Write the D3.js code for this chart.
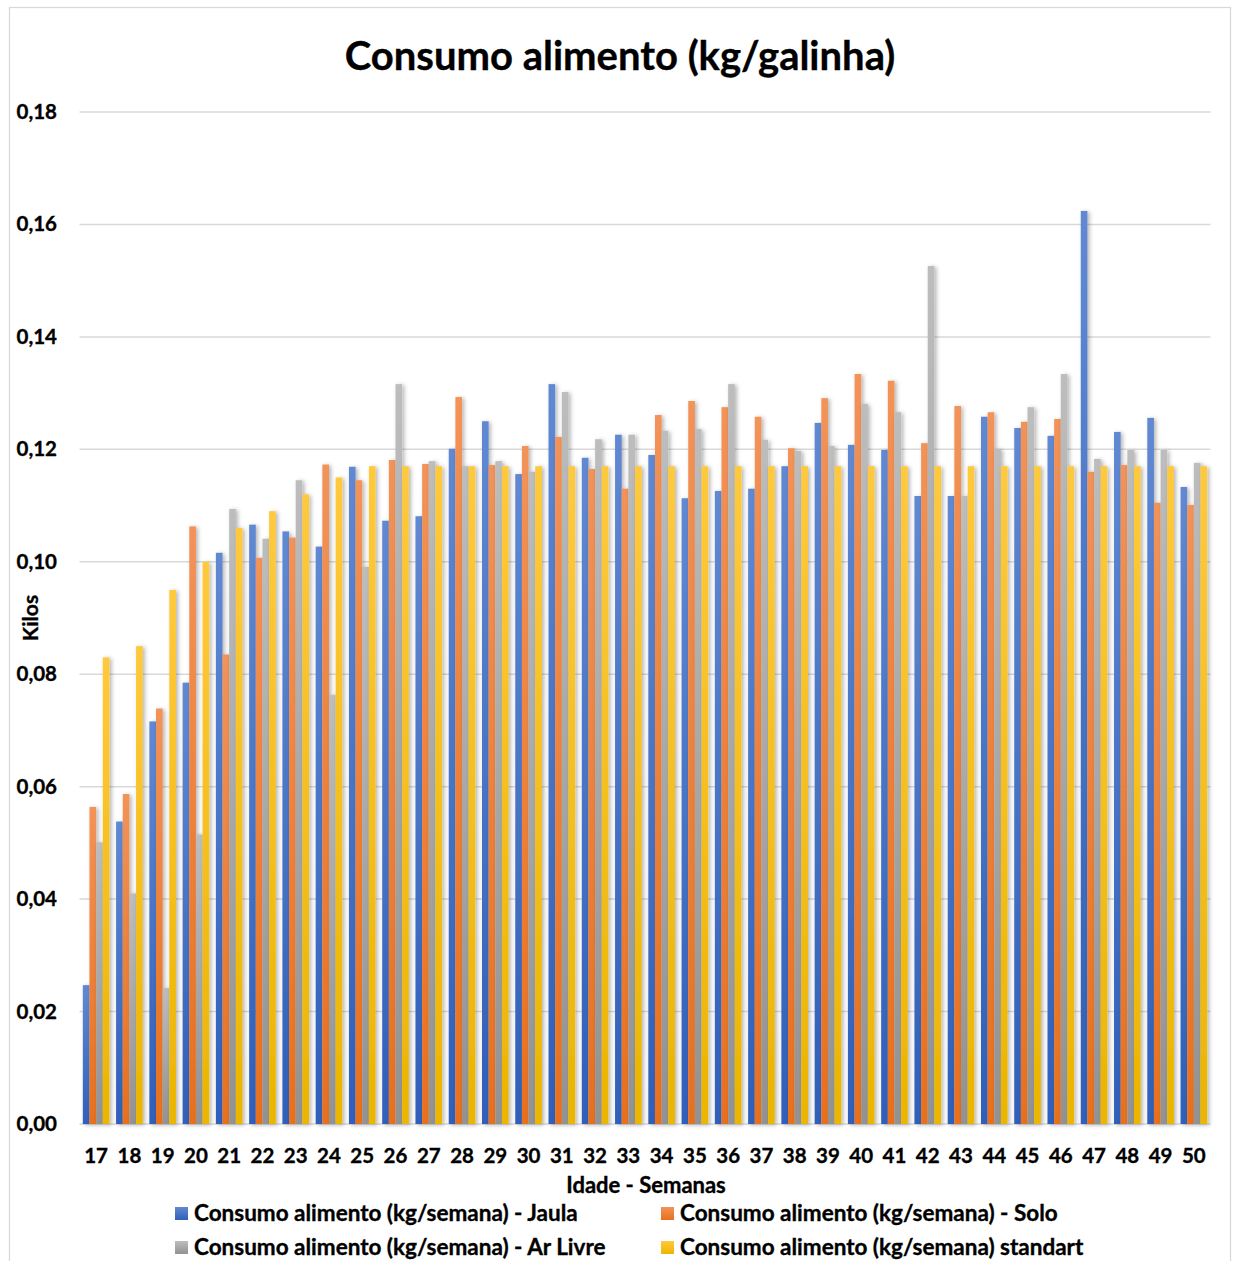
<!DOCTYPE html>
<html><head><meta charset="utf-8">
<script src="https://cdn.jsdelivr.net/npm/d3@7"></script>
<style>
html,body{margin:0;padding:0;background:#fff;}
text{font-family:Lato,"Open Sans",sans-serif;font-weight:bold;fill:#000;stroke:#000;stroke-width:0.35px;}
</style></head>
<body>
<svg id="chart" width="1237" height="1261"></svg>
<script>
const weeks = ["17","18","19","20","21","22","23","24","25","26","27","28","29","30","31","32","33","34","35","36","37","38","39","40","41","42","43","44","45","46","47","48","49","50"];
const jaula = [0.0247,0.0538,0.0716,0.0785,0.1016,0.1066,0.1054,0.1027,0.1169,0.1073,0.1081,0.1201,0.1250,0.1156,0.1316,0.1185,0.1226,0.1190,0.1113,0.1126,0.1130,0.1170,0.1247,0.1208,0.1199,0.1117,0.1117,0.1258,0.1238,0.1224,0.1624,0.1231,0.1256,0.1133];
const solo = [0.0564,0.0587,0.0739,0.1063,0.0835,0.1007,0.1043,0.1173,0.1145,0.1181,0.1174,0.1293,0.1172,0.1206,0.1222,0.1165,0.1130,0.1261,0.1286,0.1275,0.1258,0.1202,0.1291,0.1334,0.1322,0.1211,0.1277,0.1266,0.1249,0.1254,0.1160,0.1172,0.1105,0.1101];
const arLivre = [0.0501,0.0410,0.0242,0.0515,0.1094,0.1041,0.1145,0.0763,0.0991,0.1316,0.1179,0.1170,0.1179,0.1160,0.1302,0.1218,0.1226,0.1233,0.1236,0.1316,0.1217,0.1197,0.1206,0.1281,0.1266,0.1526,0.1117,0.1201,0.1275,0.1334,0.1183,0.1199,0.1199,0.1176];
const standart = [0.083,0.085,0.095,0.100,0.106,0.109,0.112,0.115,0.117,0.117,0.117,0.117,0.117,0.117,0.117,0.117,0.117,0.117,0.117,0.117,0.117,0.117,0.117,0.117,0.117,0.117,0.117,0.117,0.117,0.117,0.117,0.117,0.117,0.117];
const seriesNames = ["Consumo alimento (kg/semana) - Jaula","Consumo alimento (kg/semana) - Solo","Consumo alimento (kg/semana) - Ar Livre","Consumo alimento (kg/semana) standart"];
const yTicks = [0,0.02,0.04,0.06,0.08,0.10,0.12,0.14,0.16,0.18];
const title = "Consumo alimento (kg/galinha)";
const xTitle = "Idade - Semanas";
const yTitle = "Kilos";

const colors = [
  {top:"#6189d2", bot:"#2f5fb9"},
  {top:"#f29359", bot:"#e8701e"},
  {top:"#bdbdbd", bot:"#929292"},
  {top:"#ffc93d", bot:"#ebb500"}
];
const allSeries = [jaula, solo, arLivre, standart];

const svg = d3.select("#chart");
const defs = svg.append("defs");
colors.forEach((c,i)=>{
  const g = defs.append("linearGradient").attr("id","g"+i).attr("x1",0).attr("y1",0).attr("x2",0).attr("y2",1);
  g.append("stop").attr("offset","0%").attr("stop-color",c.top);
  g.append("stop").attr("offset","100%").attr("stop-color",c.bot);
});
const f = defs.append("filter").attr("id","sh").attr("x","-50%").attr("y","-10%").attr("width","200%").attr("height","120%");
f.append("feDropShadow").attr("dx",2).attr("dy",1).attr("stdDeviation",2).attr("flood-color","#000").attr("flood-opacity",0.3);

// outer frame
svg.append("rect").attr("x",9.5).attr("y",7.5).attr("width",1221).attr("height",1270)
  .attr("fill","none").attr("stroke","#d9d9d9").attr("stroke-width",1.3);

const x0 = d3.scaleBand().domain(weeks).range([79.5,1210.5]).paddingInner(0.2).paddingOuter(0.1);
const x1 = d3.scaleBand().domain(d3.range(4)).range([0,x0.bandwidth()]);
const y = d3.scaleLinear().domain([0,0.18]).range([1124,112]);

// gridlines
svg.append("g").selectAll("line").data(yTicks).join("line")
  .attr("x1",79.5).attr("x2",1210.5)
  .attr("y1",d=>y(d)).attr("y2",d=>y(d))
  .attr("stroke","#d9d9d9").attr("stroke-width",1.5);

// y tick labels
svg.append("g").selectAll("text").data(yTicks).join("text")
  .attr("x",57).attr("y",d=>y(d)+7).attr("text-anchor","end")
  .style("font-size","20.5px")
  .text(d=>d3.format(".2f")(d).replace(".",","));

// bars
const barsG = svg.append("g");
allSeries.forEach((arr,si)=>{
  barsG.append("g").attr("filter","url(#sh)").selectAll("rect").data(arr).join("rect")
    .attr("x",(d,i)=>x0(weeks[i])+x1(si))
    .attr("width",x1.bandwidth())
    .attr("y",d=>y(d))
    .attr("height",d=>y(0)-y(d))
    .attr("fill","url(#g"+si+")");
});

// x labels
svg.append("g").selectAll("text").data(weeks).join("text")
  .attr("x",d=>x0(d)+x0.bandwidth()/2).attr("y",1163).attr("text-anchor","middle")
  .style("font-size","20.5px").text(d=>d);

// titles
svg.append("text").attr("x",620).attr("y",70).attr("text-anchor","middle")
  .style("font-size","40px").text(title);
svg.append("text").attr("x",646).attr("y",1193).attr("text-anchor","middle")
  .style("font-size","22px").text(xTitle);
svg.append("text").attr("transform","translate(38,618) rotate(-90)").attr("text-anchor","middle")
  .style("font-size","21px").text(yTitle);

// legend
const legPos = [[175,1213],[661,1213],[175,1247],[661,1247]];
const leg = svg.append("g").selectAll("g").data(seriesNames).join("g")
  .attr("transform",(d,i)=>`translate(${legPos[i][0]},${legPos[i][1]})`);
leg.append("rect").attr("x",0).attr("y",-6).attr("width",13).attr("height",13).attr("fill",(d,i)=>"url(#g"+i+")");
leg.append("text").attr("x",19).attr("y",7.5).style("font-size","22.5px").text(d=>d);
</script>
</body></html>
